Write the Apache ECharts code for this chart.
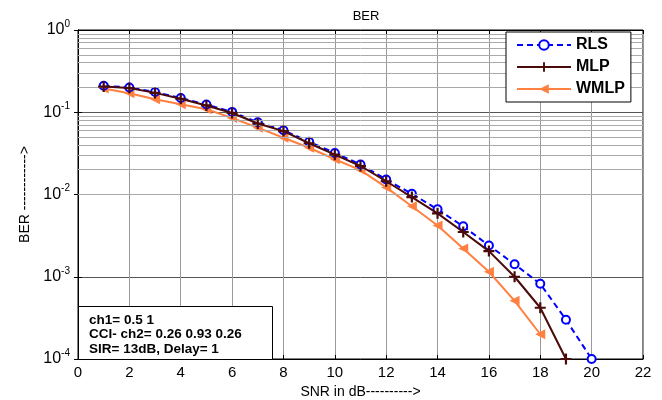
<!DOCTYPE html>
<html>
<head>
<meta charset="utf-8">
<title>BER</title>
<script src="https://cdn.jsdelivr.net/npm/echarts@6/dist/echarts.min.js"></script>
<style>
    html, body { margin: 0; padding: 0; background: #fff; }
    #chart { width: 662px; height: 400px; }
</style>
</head>
<body>
<div id="chart"></div>
<script>
// values
const snrRLS = [1, 2, 3, 4, 5, 6, 7, 8, 9, 10, 11, 12, 13, 14, 15, 16, 17, 18, 19, 20];
const berRLS = [0.21, 0.20, 0.176, 0.149, 0.124, 0.101, 0.0755, 0.0605, 0.0438, 0.032, 0.0232, 0.0152, 0.0102, 0.0066, 0.0041, 0.0024, 0.00142, 0.00082, 0.0003, 0.0001];
const snrMLP = [1, 2, 3, 4, 5, 6, 7, 8, 9, 10, 11, 12, 13, 14, 15, 16, 17, 18, 19];
const berMLP = [0.205, 0.197, 0.172, 0.146, 0.121, 0.098, 0.073, 0.059, 0.042, 0.0305, 0.0222, 0.0145, 0.0093, 0.0059, 0.0035, 0.00205, 0.001, 0.00042, 0.0001];
const snrWMLP = [1, 2, 3, 4, 5, 6, 7, 8, 9, 10, 11, 12, 13, 14, 15, 16, 17, 18];
const berWMLP = [0.195, 0.17, 0.144, 0.125, 0.109, 0.085, 0.065, 0.049, 0.037, 0.0268, 0.0198, 0.0122, 0.0072, 0.0042, 0.0022, 0.00115, 0.00051, 0.0002];
const xTicks = [0, 2, 4, 6, 8, 10, 12, 14, 16, 18, 20, 22];
const decades = [-4, -3, -2, -1];
const minorSteps = [2, 3, 4, 5, 6, 7, 8, 9];
const infoLines = ['ch1= 0.5 1', 'CCI- ch2= 0.26 0.93 0.26', 'SIR= 13dB, Delay= 1'];

const FONT = 'Arial, "Liberation Sans", sans-serif';
const pairs = (xs, ys) => ys.map((y, i) => [xs[i], y]);

// minor log grid lines (2..9 x 10^n)
var minorLines = [];
decades.forEach(d => minorSteps.forEach(m => minorLines.push({ yAxis: m * Math.pow(10, d) })));

const crossPath = 'path://M4,0h2v4h4v2h-4v4h-2v-4h-4v-2h4z';

var chart = echarts.init(document.getElementById('chart'));
chart.setOption({
    animation: false,
    backgroundColor: '#fff',
    textStyle: { fontFamily: FONT },
    title: {
        text: 'BER', left: 361, top: 5, textAlign: 'center',
        textStyle: { fontSize: 13, fontWeight: 'normal', color: '#000', fontFamily: FONT }
    },
    grid: {
        left: 78, top: 30, right: 19, bottom: 41, outerBoundsMode: 'none',
        show: true, borderColor: '#000', borderWidth: 1
    },
    legend: {
        data: ['RLS', 'MLP', 'WMLP'],
        orient: 'vertical', left: 506, top: 32, zlevel: 2,
        padding: [5, 6, 5, 10], itemGap: 6, itemWidth: 54, itemHeight: 12,
        backgroundColor: '#fff', borderColor: '#000', borderWidth: 1,
        textStyle: { fontSize: 16, fontWeight: 'bold', color: '#000', fontFamily: FONT }
    },
    xAxis: [{
        type: 'value', min: xTicks[0], max: xTicks[xTicks.length - 1], interval: 2,
        name: 'SNR in dB---------->', nameLocation: 'middle', nameGap: 22,
        nameTextStyle: { fontSize: 14, color: '#000' },
        axisLine: { lineStyle: { color: '#000' } },
        axisTick: { inside: true, length: 4, lineStyle: { color: '#000' } },
        axisLabel: { fontSize: 15, color: '#000', margin: 6 },
        splitLine: { show: true, lineStyle: { color: '#999', width: 1 } }
    }, {
        type: 'value', position: 'top', min: xTicks[0], max: xTicks[xTicks.length - 1], interval: 2,
        axisLine: { show: true, lineStyle: { color: '#000' } },
        axisTick: { inside: true, length: 4, lineStyle: { color: '#000' } },
        axisLabel: { show: false }, splitLine: { show: false }
    }],
    yAxis: [{
        type: 'log', logBase: 10, min: 1e-4, max: 1,
        name: 'BER ------------>', nameLocation: 'middle', nameGap: 46, nameRotate: 90,
        nameTextStyle: { fontSize: 14, color: '#000' },
        axisLine: { show: true, lineStyle: { color: '#000' } },
        axisTick: { inside: true, length: 4, lineStyle: { color: '#000' } },
        axisLabel: {
            color: '#000', fontSize: 16, margin: 8,
            formatter: v => '10{e|' + Math.round(Math.log10(v)) + '}',
            rich: { e: { fontSize: 10, padding: [0, 0, 12, 0], color: '#000' } }
        },
        splitLine: { show: true, lineStyle: { color: '#555', width: 1 } }
    }, {
        type: 'log', logBase: 10, min: 1e-4, max: 1, position: 'right',
        axisLine: { show: true, lineStyle: { color: '#000' } },
        axisTick: { inside: true, length: 4, lineStyle: { color: '#000' } },
        axisLabel: { show: false }, splitLine: { show: false }
    }],
    series: [{
        name: 'minor', type: 'line', data: [], silent: true,
        markLine: {
            silent: true, symbol: ['none', 'none'], label: { show: false },
            lineStyle: { color: '#aaa', width: 1, type: 'solid' },
            data: minorLines
        }
    }, {
        name: 'RLS', type: 'line', data: pairs(snrRLS, berRLS), z: 4,
        symbol: 'circle', symbolSize: 8, showAllSymbol: true,
        lineStyle: { color: '#0000ff', width: 2, type: [6, 4] },
        itemStyle: { color: '#fff', borderColor: '#0000ff', borderWidth: 2 }
    }, {
        name: 'MLP', type: 'line', data: pairs(snrMLP, berMLP), z: 5,
        symbol: crossPath, symbolSize: 11,
        lineStyle: { color: '#4b0a0a', width: 2 },
        itemStyle: { color: '#4b0a0a' }
    }, {
        name: 'WMLP', type: 'line', data: pairs(snrWMLP, berWMLP), z: 3,
        symbol: 'triangle', symbolRotate: 90, symbolSize: 10,
        lineStyle: { color: '#ff8040', width: 2 },
        itemStyle: { color: '#ff8040' }
    }],
    // parameter box, bottom-left of the plot
    graphic: [{
        type: 'rect', left: 78, top: 306, zlevel: 2,
        shape: { width: 194, height: 53 },
        style: { fill: '#fff', stroke: '#000', lineWidth: 1 }
    }].concat(infoLines.map((t, i) => ({
        type: 'text', left: 89, top: 313 + i * 14.5, zlevel: 3,
        style: { text: t, font: 'bold 13.5px ' + FONT, fill: '#000' }
    })))
});
</script>
</body>
</html>
